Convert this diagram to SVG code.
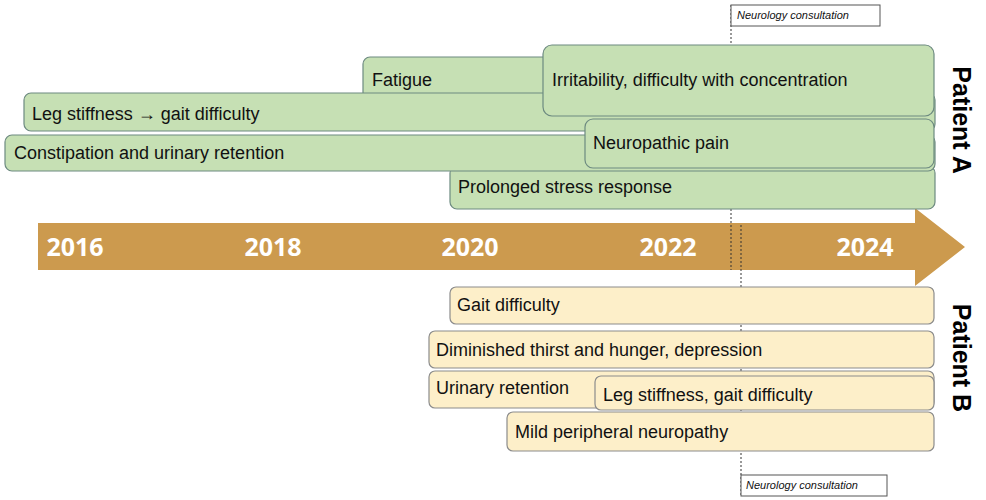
<svg xmlns="http://www.w3.org/2000/svg" width="986" height="500" viewBox="0 0 986 500">
<style>
.g{fill:#c6e0b4;stroke:#6d8a80;stroke-width:1.2}
.y{fill:#fdefc9;stroke:#8c8c8c;stroke-width:1.2}
.t{font-family:"Liberation Sans",Arial,sans-serif;font-size:18px;fill:#111}
.yr{font-family:"Open Sans","Liberation Sans",sans-serif;font-size:25px;font-weight:bold;fill:#fff}
.p{font-family:"Liberation Sans",Arial,sans-serif;font-size:25px;font-weight:bold;fill:#000}
.n{font-family:"Liberation Sans",Arial,sans-serif;font-size:11px;font-style:italic;fill:#111}
.d{stroke:#333;stroke-width:1;stroke-dasharray:2,2;fill:none}
</style>
<rect width="986" height="500" fill="#fff"/>
<g id="timeline">
<path d="M38,223 H915 V208 L965,247 L915,286 V270 H38 Z" fill="#cc9a4e"/>
<text class="yr" x="75" y="256" text-anchor="middle">2016</text>
<text class="yr" x="273" y="256" text-anchor="middle">2018</text>
<text class="yr" x="470" y="256" text-anchor="middle">2020</text>
<text class="yr" x="668" y="256" text-anchor="middle">2022</text>
<text class="yr" x="865" y="256" text-anchor="middle">2024</text>
</g>
<g id="connectors">
<line class="d" x1="731" y1="5" x2="731" y2="270"/>
<line class="d" x1="741" y1="225" x2="741" y2="496"/>
</g>
<g id="consult-top"><rect x="731" y="5" width="149" height="21" fill="#fff" stroke="#555"/><text class="n" x="737" y="19">Neurology consultation</text></g>
<g id="consult-bottom"><rect x="741" y="475" width="146" height="21" fill="#fff" stroke="#555"/><text class="n" x="746" y="489">Neurology consultation</text></g>
<g id="fatigue"><rect class="g" x="363" y="57" width="300" height="47" rx="7"/><text class="t" x="372" y="86">Fatigue</text></g>
<g id="leg-a"><rect class="g" x="24" y="93" width="911" height="38" rx="7"/><text class="t" x="32" y="120">Leg stiffness → gait difficulty</text></g>
<g id="prolonged"><rect class="g" x="450" y="166" width="485" height="43" rx="7"/><text class="t" x="458" y="193">Prolonged stress response</text></g>
<g id="constipation"><rect class="g" x="5" y="135" width="930" height="36" rx="7"/><text class="t" x="14" y="159">Constipation and urinary retention</text></g>
<g id="irritability"><rect class="g" x="543" y="45" width="391" height="71" rx="9"/><text class="t" x="552" y="86">Irritability, difficulty with concentration</text></g>
<g id="neuropathic"><rect class="g" x="585" y="119" width="349" height="49" rx="8"/><text class="t" x="593" y="149">Neuropathic pain</text></g>
<g id="patient-a"><text class="p" transform="translate(953,120) rotate(90)" text-anchor="middle">Patient A</text></g>
<g id="gait-b"><rect class="y" x="450" y="287" width="484" height="37" rx="6"/><text class="t" x="457" y="311">Gait difficulty</text></g>
<g id="diminished"><rect class="y" x="429" y="331" width="505" height="37" rx="6"/><text class="t" x="436" y="356">Diminished thirst and hunger, depression</text></g>
<g id="urinary"><rect class="y" x="429" y="371" width="505" height="37" rx="6"/><text class="t" x="436" y="394">Urinary retention</text></g>
<g id="leg-b"><rect class="y" x="595" y="376" width="339" height="34" rx="6"/><text class="t" x="603" y="401">Leg stiffness, gait difficulty</text></g>
<g id="mild"><rect class="y" x="507" y="412" width="427" height="39" rx="6"/><text class="t" x="515" y="438">Mild peripheral neuropathy</text></g>
<g id="patient-b"><text class="p" transform="translate(953,358) rotate(90)" text-anchor="middle">Patient B</text></g>
</svg>
